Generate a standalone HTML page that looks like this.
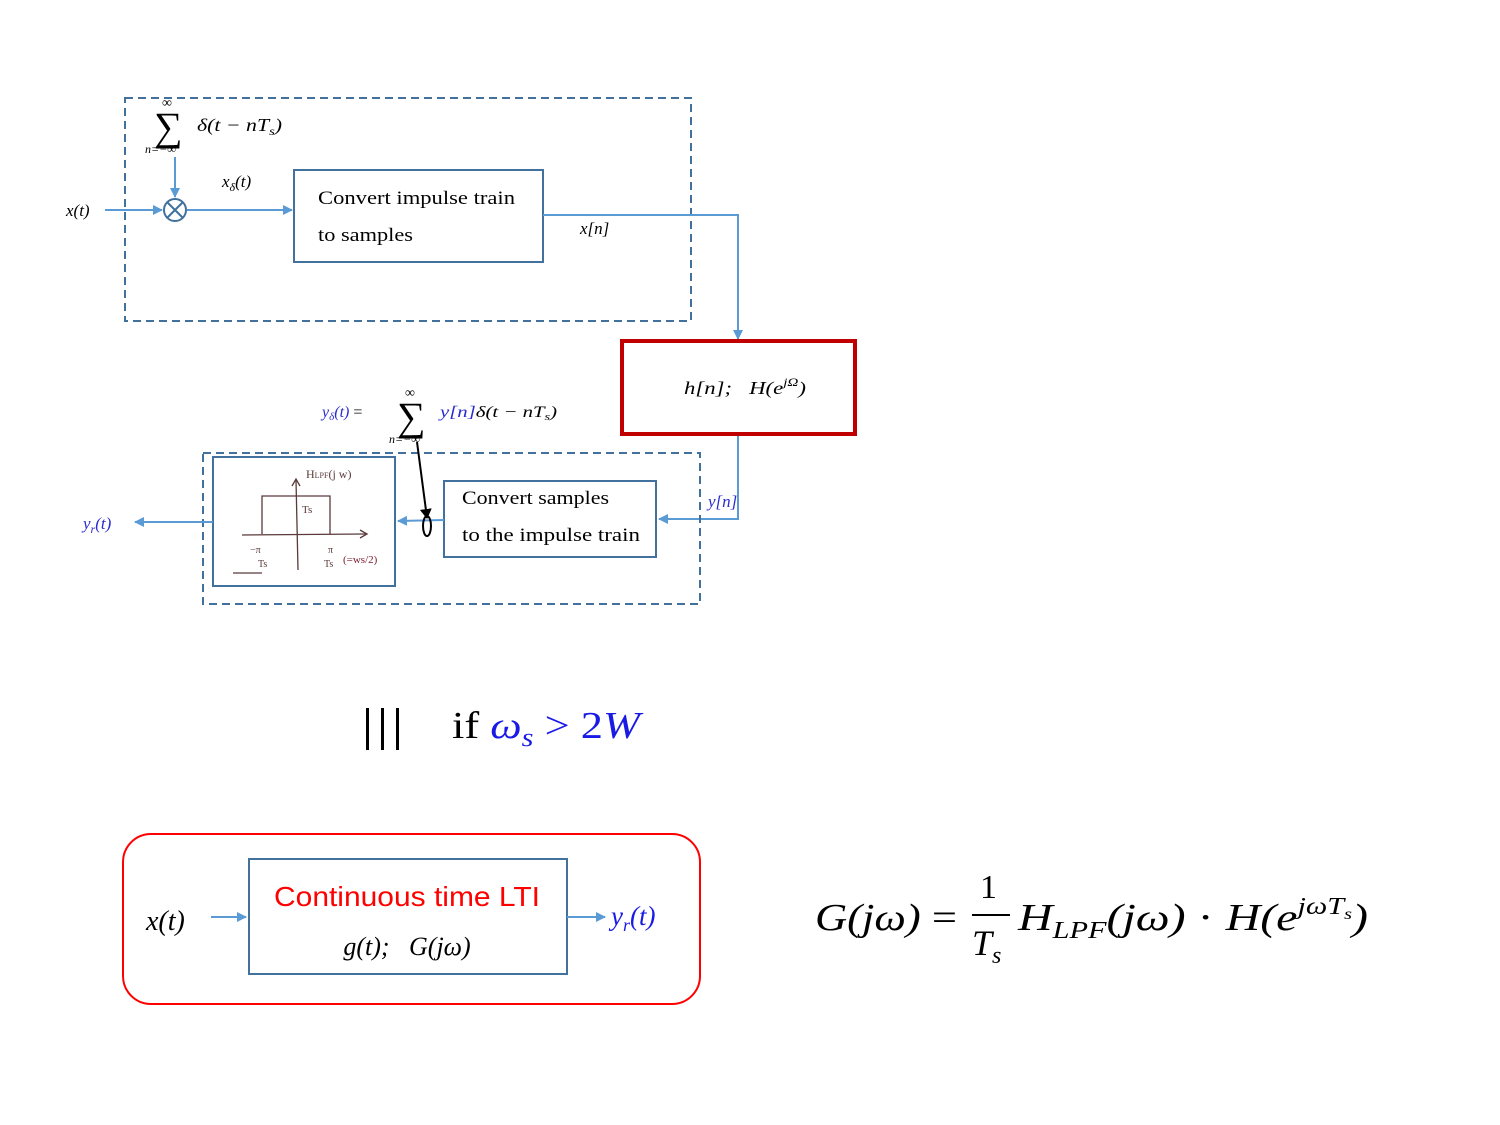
<!DOCTYPE html>
<html><head><meta charset="utf-8"><style>
body{margin:0;background:#fff}
svg{display:block}
text{font-family:"Liberation Serif",serif}
.i{font-style:italic}
</style></head><body>
<svg width="1500" height="1125" viewBox="0 0 1500 1125" xmlns="http://www.w3.org/2000/svg">
<defs>
<marker id="a" markerWidth="10" markerHeight="10" refX="9" refY="5" orient="auto" markerUnits="userSpaceOnUse"><path d="M0,0 L10,5 L0,10 z" fill="#5b9bd5"/></marker>
<marker id="k" markerWidth="10" markerHeight="12" refX="9" refY="6" orient="auto" markerUnits="userSpaceOnUse"><path d="M0,0 L10,6 L0,12 z" fill="#000"/></marker>
</defs>
<!-- top dashed box -->
<rect x="125" y="98" width="566" height="223" fill="none" stroke="#41719c" stroke-width="2" stroke-dasharray="8,5"/>
<text x="154" y="140" font-size="40">∑</text>
<text x="162" y="107" font-size="14">∞</text>
<text x="145" y="153" font-size="12" class="i">n=−∞</text>
<text x="197" y="131" font-size="18" class="i" textLength="85" lengthAdjust="spacingAndGlyphs">δ(t − nT<tspan font-size="12" dy="4">s</tspan><tspan dy="-4">)</tspan></text>
<line x1="175" y1="157" x2="175" y2="197" stroke="#5b9bd5" stroke-width="2" marker-end="url(#a)"/>
<circle cx="175" cy="210" r="11" fill="none" stroke="#41719c" stroke-width="2"/>
<line x1="167" y1="202" x2="183" y2="218" stroke="#41719c" stroke-width="2"/>
<line x1="183" y1="202" x2="167" y2="218" stroke="#41719c" stroke-width="2"/>
<text x="66" y="216" font-size="17" class="i">x(t)</text>
<line x1="105" y1="210" x2="162" y2="210" stroke="#5b9bd5" stroke-width="2" marker-end="url(#a)"/>
<line x1="187" y1="210" x2="292" y2="210" stroke="#5b9bd5" stroke-width="2" marker-end="url(#a)"/>
<text x="222" y="187" font-size="17" class="i">x<tspan font-size="12" dy="4">δ</tspan><tspan dy="-4">(t)</tspan></text>
<rect x="294" y="170" width="249" height="92" fill="none" stroke="#41719c" stroke-width="2"/>
<text x="318" y="204" font-size="19" textLength="197" lengthAdjust="spacingAndGlyphs">Convert impulse train</text>
<text x="318" y="241" font-size="19" textLength="95" lengthAdjust="spacingAndGlyphs">to samples</text>
<polyline points="543,215 738,215 738,339" fill="none" stroke="#5b9bd5" stroke-width="2" marker-end="url(#a)"/>
<text x="580" y="234" font-size="17" class="i">x[n]</text>
<!-- red box -->
<rect x="622" y="341" width="233" height="93" fill="none" stroke="#c00000" stroke-width="4"/>
<text x="684" y="394" font-size="18" class="i" textLength="122" lengthAdjust="spacingAndGlyphs">h[n];&#160;&#160; H(e<tspan font-size="12" dy="-8">jΩ</tspan><tspan dy="8">)</tspan></text>
<polyline points="738,436 738,519 659,519" fill="none" stroke="#5b9bd5" stroke-width="2" marker-end="url(#a)"/>
<text x="708" y="507" font-size="17" class="i" fill="#2b2bd0">y[n]</text>
<!-- lower dashed box -->
<rect x="203" y="453" width="497" height="151" fill="none" stroke="#41719c" stroke-width="2" stroke-dasharray="8,5"/>
<rect x="444" y="481" width="212" height="76" fill="none" stroke="#41719c" stroke-width="2"/>
<text x="462" y="504" font-size="19" textLength="147" lengthAdjust="spacingAndGlyphs">Convert samples</text>
<text x="462" y="541" font-size="19" textLength="178" lengthAdjust="spacingAndGlyphs">to the impulse train</text>
<line x1="444" y1="520" x2="398" y2="521" stroke="#5b9bd5" stroke-width="2" marker-end="url(#a)"/>
<ellipse cx="427" cy="526" rx="4" ry="10" fill="none" stroke="#000" stroke-width="2"/>
<line x1="417" y1="442" x2="427" y2="518" stroke="#000" stroke-width="2" marker-end="url(#k)"/>
<text x="322" y="417" font-size="16" class="i" fill="#2b2bd0">y<tspan font-size="11" dy="3">δ</tspan><tspan dy="-3">(t)</tspan> <tspan fill="#000" font-style="normal">=</tspan></text>
<text x="397" y="430" font-size="40">∑</text>
<text x="405" y="397" font-size="14">∞</text>
<text x="389" y="443" font-size="12" class="i">n=−∞</text>
<text x="440" y="417" font-size="16" class="i" textLength="117" lengthAdjust="spacingAndGlyphs"><tspan fill="#2b2bd0">y[n]</tspan>δ(t − nT<tspan font-size="11" dy="3">s</tspan><tspan dy="-3">)</tspan></text>
<!-- LPF box -->
<rect x="213" y="457" width="182" height="129" fill="none" stroke="#41719c" stroke-width="2"/>
<g stroke="#5a3a3a" stroke-width="1.3" fill="none">
<line x1="296" y1="480" x2="298" y2="570"/>
<path d="M292,486 L296,479 L300,486"/>
<line x1="242" y1="535" x2="366" y2="534"/>
<path d="M360,530 L367,534 L360,538"/>
<polyline points="262,534 262,496 330,496 330,534"/>
<line x1="233" y1="573" x2="262" y2="573"/>
</g>
<text x="306" y="478" font-size="12" font-family="Liberation Sans" fill="#5a3a3a">H<tspan font-size="8">LPF</tspan>(j w)</text>
<text x="302" y="513" font-size="11" font-family="Liberation Sans" fill="#5a3a3a">Ts</text>
<text x="250" y="553" font-size="10" fill="#5a3a3a">−π</text>
<text x="258" y="567" font-size="10" fill="#5a3a3a">Ts</text>
<text x="328" y="553" font-size="10" fill="#5a3a3a">π</text>
<text x="324" y="567" font-size="10" fill="#5a3a3a">Ts</text>
<text x="343" y="563" font-size="11" fill="#7a1a2a">(=ws/2)</text>
<line x1="213" y1="522" x2="135" y2="522" stroke="#5b9bd5" stroke-width="2" marker-end="url(#a)"/>
<text x="83" y="529" font-size="17" class="i" fill="#2b2bd0">y<tspan font-size="12" dy="4">r</tspan><tspan dy="-4">(t)</tspan></text>
<!-- equivalence -->
<rect x="366" y="708" width="3" height="42" fill="#000"/>
<rect x="381" y="708" width="3" height="42" fill="#000"/>
<rect x="396" y="708" width="3" height="42" fill="#000"/>
<text x="452" y="738" font-size="38" textLength="188" lengthAdjust="spacingAndGlyphs">if <tspan class="i" fill="#1a1ae6">ω<tspan font-size="26" dy="8">s</tspan></tspan><tspan dy="-8" fill="#1a1ae6"> &gt; 2<tspan class="i">W</tspan></tspan></text>
<!-- bottom -->
<rect x="123" y="834" width="577" height="170" rx="28" fill="none" stroke="#ff0000" stroke-width="2"/>
<rect x="249" y="859" width="318" height="115" fill="none" stroke="#41719c" stroke-width="2"/>
<text x="274" y="906" font-size="28" fill="#ff0000" style="font-family:'Liberation Sans',sans-serif" textLength="266" lengthAdjust="spacingAndGlyphs">Continuous time LTI</text>
<text x="407" y="955" font-size="26" text-anchor="middle" class="i">g(t);&#160;&#160; G(jω)</text>
<text x="146" y="930" font-size="28" class="i">x(t)</text>
<line x1="211" y1="917" x2="246" y2="917" stroke="#5b9bd5" stroke-width="2" marker-end="url(#a)"/>
<line x1="567" y1="917" x2="605" y2="917" stroke="#5b9bd5" stroke-width="2" marker-end="url(#a)"/>
<text x="611" y="925" font-size="27" class="i" fill="#1a1ae6">y<tspan font-size="18" dy="6">r</tspan><tspan dy="-6">(t)</tspan></text>
<text x="815" y="930" font-size="38" class="i" textLength="142" lengthAdjust="spacingAndGlyphs">G(jω) <tspan font-style="normal">=</tspan></text>
<text x="980" y="898" font-size="34">1</text>
<line x1="972" y1="915" x2="1010" y2="915" stroke="#000" stroke-width="2"/>
<text x="972" y="955" font-size="36" class="i">T<tspan font-size="24" dy="8">s</tspan></text>
<text x="1018" y="930" font-size="38" class="i" textLength="350" lengthAdjust="spacingAndGlyphs">H<tspan font-size="24" dy="8">LPF</tspan><tspan dy="-8">(jω) <tspan font-style="normal">·</tspan> H(e<tspan font-size="24" dy="-16">jωT<tspan font-size="16" dy="5">s</tspan></tspan><tspan dy="11">)</tspan></tspan></text>
</svg>
</body></html>
